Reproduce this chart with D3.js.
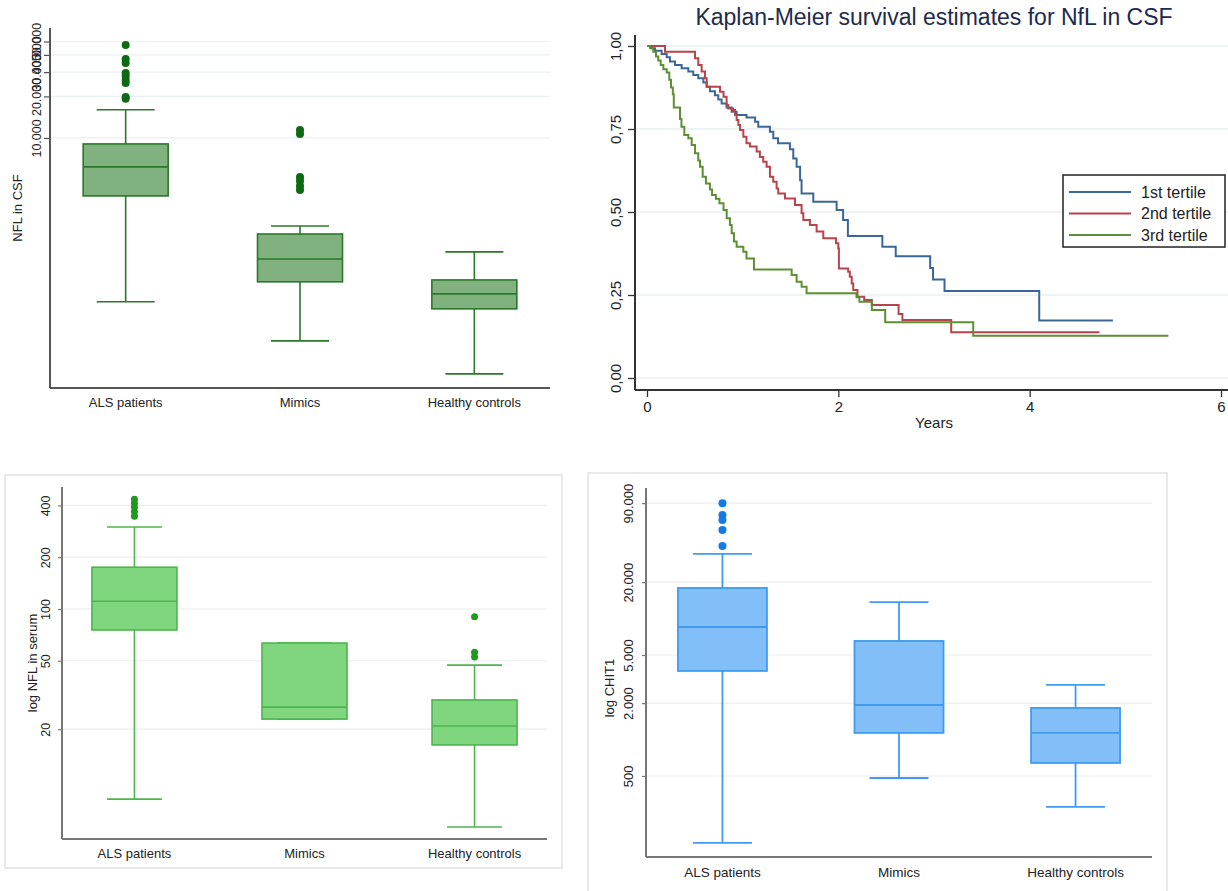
<!DOCTYPE html>
<html>
<head>
<meta charset="utf-8">
<script src="https://cdnjs.cloudflare.com/ajax/libs/d3/7.8.5/d3.min.js"></script>
<style>
body { margin: 0; background: #fff; }
text { font-family: "Liberation Sans", Arial, sans-serif; }
</style>
</head>
<body>
<div id="fig"></div>
<script>
const groups = ["ALS patients", "Mimics", "Healthy controls"];

// NfL in CSF
const csfLow = [649, 338, 195];
const csfQ1 = [3800, 906, 577];
const csfMedian = [6170, 1327, 741];
const csfQ3 = [9050, 2013, 935];
const csfHigh = [16000, 2303, 1493];
const csfOutliers = [[47200, 37300, 35000, 29600, 28100, 26300, 25000, 19800, 19200], [11430, 10690, 5210, 4880, 4490, 4200], []];
const csfTicks = [10000, 20000, 30000, 40000, 50000];

// NfL in serum
const serumLow = [7.85, 22.9, 5.4];
const serumQ1 = [75.5, 22.9, 16.2];
const serumMedian = [111, 26.9, 20.9];
const serumQ3 = [175, 63.4, 29.6];
const serumHigh = [300, 63.4, 47.2];
const serumOutliers = [[435, 412, 390, 367, 346], [], [90, 56, 52.6]];
const serumTicks = [20, 50, 100, 200, 400];

// CHIT1
const chitLow = [140, 481, 278];
const chitQ1 = [3690, 1135, 641];
const chitMedian = [8520, 1930, 1135];
const chitQ3 = [17900, 6530, 1825];
const chitHigh = [34200, 13700, 2830];
const chitOutliers = [[89700, 71800, 65300, 54000, 39800], [], []];
const chitTicks = [500, 2000, 5000, 20000, 90000];

// Kaplan-Meier, [years, survival]
const kmNames = ["1st tertile", "2nd tertile", "3rd tertile"];
const kmFirst = [[0,1],[0.05,0.993],[0.084,0.986],[0.153,0.976],[0.206,0.966],[0.24,0.953],[0.293,0.943],[0.362,0.933],[0.432,0.923],[0.484,0.913],[0.536,0.903],[0.589,0.89],[0.624,0.877],[0.658,0.864],[0.71,0.852],[0.745,0.839],[0.78,0.827],[0.832,0.815],[0.885,0.802],[0.937,0.792],[1.04,0.785],[1.13,0.772],[1.163,0.757],[1.285,0.742],[1.32,0.722],[1.37,0.707],[1.494,0.689],[1.529,0.661],[1.564,0.636],[1.6,0.596],[1.616,0.556],[1.738,0.531],[1.982,0.506],[2.05,0.476],[2.1,0.428],[2.46,0.395],[2.6,0.367],[2.96,0.331],[2.99,0.297],[3.11,0.262],[4.1,0.173],[4.87,0.173]];
const kmSecond = [[0,1],[0.188,0.983],[0.502,0.963],[0.536,0.943],[0.571,0.923],[0.606,0.903],[0.624,0.877],[0.763,0.862],[0.8,0.847],[0.832,0.822],[0.85,0.812],[0.9,0.807],[0.92,0.792],[0.937,0.777],[0.955,0.762],[0.972,0.747],[1.007,0.727],[1.04,0.707],[1.076,0.697],[1.146,0.682],[1.18,0.666],[1.215,0.651],[1.25,0.636],[1.285,0.606],[1.32,0.591],[1.355,0.571],[1.372,0.556],[1.442,0.541],[1.547,0.521],[1.616,0.496],[1.634,0.476],[1.703,0.461],[1.773,0.441],[1.843,0.421],[1.975,0.406],[2.0,0.39],[2.006,0.33],[2.103,0.32],[2.12,0.305],[2.14,0.285],[2.156,0.265],[2.2,0.245],[2.27,0.235],[2.35,0.22],[2.63,0.193],[2.67,0.175],[3.18,0.138],[4.73,0.138]];
const kmThird = [[0,1],[0.031,0.993],[0.066,0.983],[0.094,0.968],[0.118,0.956],[0.143,0.943],[0.171,0.93],[0.206,0.92],[0.233,0.898],[0.251,0.875],[0.27,0.855],[0.28,0.815],[0.345,0.78],[0.36,0.757],[0.39,0.732],[0.432,0.722],[0.467,0.702],[0.502,0.677],[0.536,0.655],[0.554,0.636],[0.582,0.606],[0.616,0.586],[0.658,0.568],[0.68,0.551],[0.72,0.54],[0.757,0.526],[0.8,0.506],[0.833,0.481],[0.867,0.461],[0.885,0.436],[0.909,0.411],[0.937,0.395],[1.007,0.38],[1.04,0.36],[1.118,0.327],[1.512,0.31],[1.564,0.29],[1.616,0.275],[1.668,0.255],[2.19,0.243],[2.22,0.23],[2.35,0.205],[2.49,0.168],[3.41,0.127],[5.45,0.127]];
const kmXTicks = [0, 2, 4, 6];
const kmYTicks = [0, 0.25, 0.5, 0.75, 1];

const width = 1228, height = 891;

let svg = d3.select("#fig")
    .append("svg")
    .attr("width", width)
    .attr("height", height);

let dotThousands = function (d) {
    return d3.format(",")(d).replace(/,/g, ".");
};

function drawBoxPanel(p) {
    let g = svg.append("g");

    if (p.frame) {
        g.append("rect")
            .attr("x", p.frame[0]).attr("y", p.frame[1])
            .attr("width", p.frame[2]).attr("height", p.frame[3])
            .attr("fill", "none")
            .attr("stroke", "#e2e2e2")
            .attr("stroke-width", 1.5);
    }

    let x = d3.scalePoint()
        .domain(groups)
        .range([p.left, p.right])
        .padding(p.pad);

    let y = d3.scaleLog()
        .domain(p.domain)
        .range([p.bottom, p.top]);

    g.selectAll(".grid")
        .data(p.ticks)
        .enter().append("line")
        .attr("class", "grid")
        .attr("x1", p.left).attr("x2", p.right)
        .attr("y1", d => y(d)).attr("y2", d => y(d))
        .attr("stroke", p.gridColor)
        .attr("stroke-width", 1.2);

    let rows = groups.map(function (k, i) {
        return {key: k, low: p.low[i], q1: p.q1[i], med: p.median[i], q3: p.q3[i], high: p.high[i]};
    });

    let box = g.selectAll(".box")
        .data(rows)
        .enter().append("g")
        .attr("class", "box");

    box.append("line")
        .attr("x1", d => x(d.key)).attr("x2", d => x(d.key))
        .attr("y1", d => y(d.low)).attr("y2", d => y(d.high))
        .attr("stroke", p.stroke).attr("stroke-width", p.lw);

    box.append("line")
        .attr("x1", d => x(d.key) - p.capW / 2).attr("x2", d => x(d.key) + p.capW / 2)
        .attr("y1", d => y(d.low)).attr("y2", d => y(d.low))
        .attr("stroke", p.stroke).attr("stroke-width", p.lw);

    box.append("line")
        .attr("x1", d => x(d.key) - p.capW / 2).attr("x2", d => x(d.key) + p.capW / 2)
        .attr("y1", d => y(d.high)).attr("y2", d => y(d.high))
        .attr("stroke", p.stroke).attr("stroke-width", p.lw);

    box.append("rect")
        .attr("x", d => x(d.key) - p.boxW / 2)
        .attr("y", d => y(d.q3))
        .attr("width", p.boxW)
        .attr("height", d => y(d.q1) - y(d.q3))
        .attr("fill", p.fill)
        .attr("stroke", p.stroke).attr("stroke-width", p.lw);

    box.append("line")
        .attr("x1", d => x(d.key) - p.boxW / 2).attr("x2", d => x(d.key) + p.boxW / 2)
        .attr("y1", d => y(d.med)).attr("y2", d => y(d.med))
        .attr("stroke", p.stroke).attr("stroke-width", p.lw);

    let pts = [];
    groups.forEach(function (k, i) {
        p.outliers[i].forEach(v => pts.push({key: k, v: v}));
    });

    g.selectAll(".out")
        .data(pts)
        .enter().append("circle")
        .attr("class", "out")
        .attr("cx", d => x(d.key))
        .attr("cy", d => y(d.v))
        .attr("r", p.r)
        .attr("fill", p.dot);

    // axes
    let ay = g.append("g")
        .attr("transform", "translate(" + p.left + ",0)")
        .call(d3.axisLeft(y).tickValues(p.ticks).tickFormat(p.fmt).tickSize(p.tickSize));
    ay.select(".domain").remove();
    ay.selectAll(".tick line").attr("stroke", p.axisColor).attr("stroke-width", 1.2);
    ay.selectAll(".tick text")
        .attr("transform", "rotate(-90)")
        .attr("x", 0)
        .attr("y", -p.labelOff)
        .attr("dy", 0)
        .style("text-anchor", "middle")
        .style("font-size", p.tickFont + "px")
        .attr("fill", "#222");

    g.append("line")
        .attr("x1", p.left).attr("x2", p.left)
        .attr("y1", p.axisTop).attr("y2", p.bottom)
        .attr("stroke", p.axisColor).attr("stroke-width", 2);

    g.append("line")
        .attr("x1", p.left).attr("x2", p.right)
        .attr("y1", p.bottom).attr("y2", p.bottom)
        .attr("stroke", p.axisColor).attr("stroke-width", 2);

    g.selectAll(".cat")
        .data(groups)
        .enter().append("text")
        .attr("class", "cat")
        .attr("x", d => x(d))
        .attr("y", p.catY)
        .style("text-anchor", "middle")
        .style("font-size", p.catFont + "px")
        .attr("fill", "#222")
        .text(d => d);

    g.append("text")
        .attr("transform", "translate(" + p.titleX + "," + p.titleY + ") rotate(-90)")
        .style("text-anchor", "middle")
        .style("font-size", p.titleFont + "px")
        .attr("fill", "#222")
        .text(p.title);
}

drawBoxPanel({
    left: 50, right: 550, top: 30, bottom: 388, axisTop: 28, pad: 0.434,
    domain: [154, 60600], ticks: csfTicks, fmt: dotThousands,
    low: csfLow, q1: csfQ1, median: csfMedian, q3: csfQ3, high: csfHigh, outliers: csfOutliers,
    fill: "#80b17f", stroke: "#2a782a", dot: "#0d6a12", lw: 1.6, r: 4,
    boxW: 85, capW: 58, gridColor: "#e9f1f1", axisColor: "#555",
    tickSize: 6, labelOff: 9, tickFont: 12.5,
    catY: 407, catFont: 13, title: "NFL in CSF", titleX: 22, titleY: 208, titleFont: 13
});

drawBoxPanel({
    left: 62, right: 547, top: 487, bottom: 839, axisTop: 487, pad: 0.426,
    domain: [4.6, 512], ticks: serumTicks, fmt: d3.format("d"),
    low: serumLow, q1: serumQ1, median: serumMedian, q3: serumQ3, high: serumHigh, outliers: serumOutliers,
    fill: "#7fd67f", stroke: "#4cb54c", dot: "#1e9b1e", lw: 1.6, r: 3.5,
    boxW: 85, capW: 55, gridColor: "#ececec", axisColor: "#777",
    tickSize: 4, labelOff: 12, tickFont: 12.5,
    catY: 858, catFont: 13, title: "log NFL in serum", titleX: 37, titleY: 663, titleFont: 13,
    frame: [5, 475, 557, 393]
});

drawBoxPanel({
    left: 646, right: 1152, top: 488, bottom: 857, axisTop: 488, pad: 0.433,
    domain: [107, 120000], ticks: chitTicks, fmt: dotThousands,
    low: chitLow, q1: chitQ1, median: chitMedian, q3: chitQ3, high: chitHigh, outliers: chitOutliers,
    fill: "#82bef8", stroke: "#3f9bef", dot: "#1579e6", lw: 1.8, r: 4,
    boxW: 89, capW: 59, gridColor: "#ececec", axisColor: "#777",
    tickSize: 4, labelOff: 13, tickFont: 13,
    catY: 877, catFont: 13.5, title: "log CHIT1", titleX: 614, titleY: 688, titleFont: 13,
    frame: [588, 473, 579, 430]
});

// Kaplan-Meier panel
let km = svg.append("g");

let kx = d3.scaleLinear().domain([0, 6]).range([647, 1221]);
let ky = d3.scaleLinear().domain([0, 1]).range([378, 46]);
let kmColor = d3.scaleOrdinal()
    .domain(kmNames)
    .range(["#3a6896", "#b9434c", "#5d8f34"]);

km.selectAll(".kgrid")
    .data(kmYTicks)
    .enter().append("line")
    .attr("class", "kgrid")
    .attr("x1", 635).attr("x2", width)
    .attr("y1", d => ky(d)).attr("y2", d => ky(d))
    .attr("stroke", "#e8f1f2")
    .attr("stroke-width", 1.5);

let kmLine = d3.line()
    .x(d => kx(d[0]))
    .y(d => ky(d[1]))
    .curve(d3.curveStepAfter);

let curves = [kmFirst, kmSecond, kmThird];

km.selectAll(".km")
    .data(curves)
    .enter().append("path")
    .attr("class", "km")
    .attr("d", kmLine)
    .attr("fill", "none")
    .attr("stroke", (d, i) => kmColor(kmNames[i]))
    .attr("stroke-width", 2);

let kxAxis = km.append("g")
    .attr("transform", "translate(0,390)")
    .call(d3.axisBottom(kx).tickValues(kmXTicks).tickFormat(d3.format("d")).tickSize(7));
kxAxis.select(".domain").remove();
kxAxis.selectAll(".tick line").attr("stroke", "#333").attr("stroke-width", 1.3);
kxAxis.selectAll(".tick text").style("font-size", "15px").attr("fill", "#222").attr("y", 11);

let kyAxis = km.append("g")
    .attr("transform", "translate(635,0)")
    .call(d3.axisLeft(ky).tickValues(kmYTicks).tickFormat(d => d3.format(".2f")(d).replace(".", ",")).tickSize(7));
kyAxis.select(".domain").remove();
kyAxis.selectAll(".tick line").attr("stroke", "#333").attr("stroke-width", 1.3);
kyAxis.selectAll(".tick text")
    .attr("transform", "rotate(-90)")
    .attr("x", 0)
    .attr("y", -14)
    .attr("dy", 0)
    .style("text-anchor", "middle")
    .style("font-size", "15px")
    .attr("fill", "#222");

km.append("line")
    .attr("x1", 635).attr("x2", 635).attr("y1", 35).attr("y2", 390)
    .attr("stroke", "#333").attr("stroke-width", 2);
km.append("line")
    .attr("x1", 635).attr("x2", width).attr("y1", 390).attr("y2", 390)
    .attr("stroke", "#333").attr("stroke-width", 2);

km.append("text")
    .attr("x", 934).attr("y", 428)
    .style("text-anchor", "middle")
    .style("font-size", "15px")
    .attr("fill", "#222")
    .text("Years");

km.append("text")
    .attr("x", 934).attr("y", 25)
    .style("text-anchor", "middle")
    .style("font-size", "23px")
    .attr("fill", "#1e2b4b")
    .text("Kaplan-Meier survival estimates for NfL in CSF");

let legend = km.append("g");
legend.append("rect")
    .attr("x", 1063).attr("y", 175)
    .attr("width", 162).attr("height", 72)
    .attr("fill", "#fff")
    .attr("stroke", "#222")
    .attr("stroke-width", 1.5);

let item = legend.selectAll(".item")
    .data(kmNames)
    .enter().append("g")
    .attr("class", "item")
    .attr("transform", (d, i) => "translate(0," + (192 + i * 21.5) + ")");

item.append("line")
    .attr("x1", 1069).attr("x2", 1131)
    .attr("stroke", d => kmColor(d))
    .attr("stroke-width", 2);

item.append("text")
    .attr("x", 1141).attr("y", 5.5)
    .style("font-size", "16px")
    .attr("fill", "#222")
    .text(d => d);
</script>
</body>
</html>
